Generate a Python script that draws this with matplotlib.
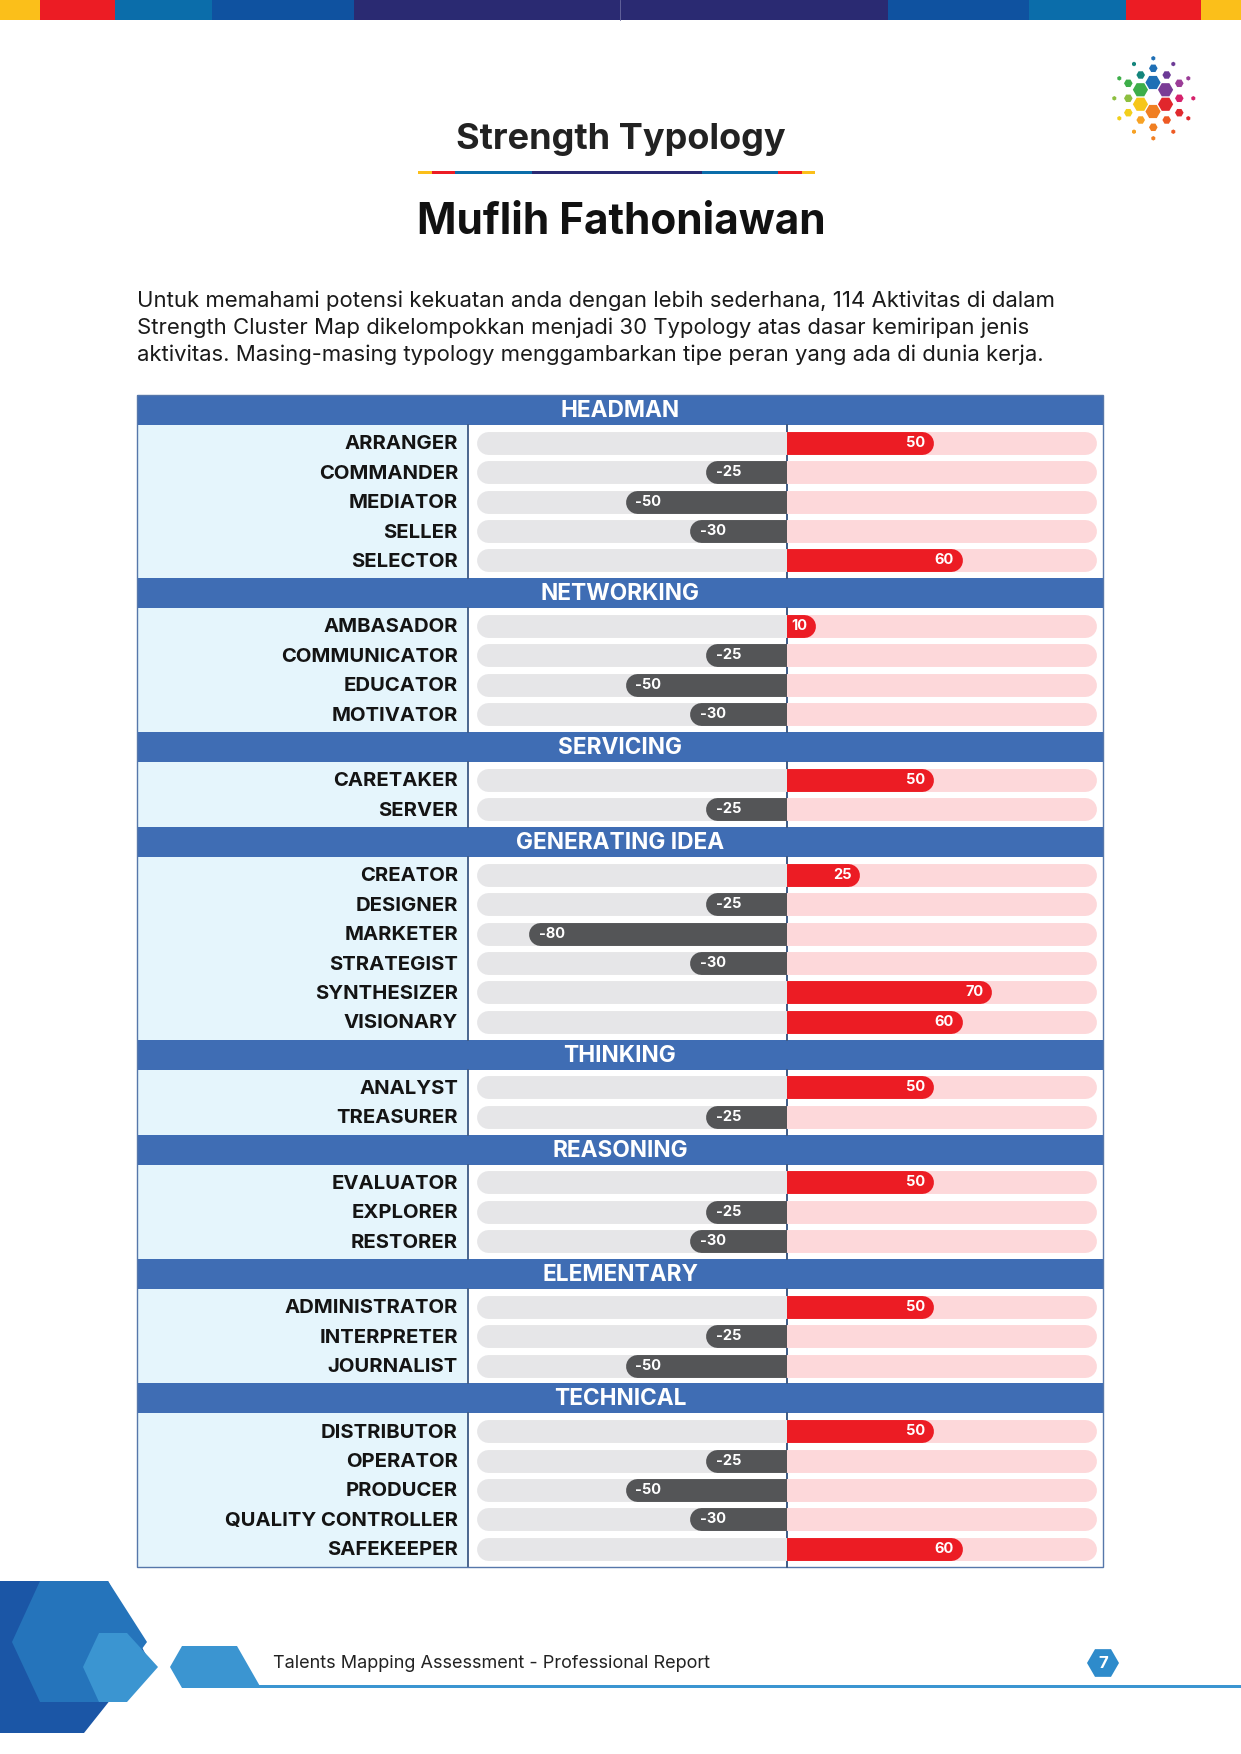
import numpy as np
import matplotlib.pyplot as plt
from matplotlib.patches import Rectangle, Polygon, RegularPolygon

# ---- data ----
sections = ["HEADMAN", "NETWORKING", "SERVICING", "GENERATING IDEA",
            "THINKING", "REASONING", "ELEMENTARY", "TECHNICAL"]

headman_labels = ["ARRANGER", "COMMANDER", "MEDIATOR", "SELLER", "SELECTOR"]
headman_values = [50, -25, -50, -30, 60]
networking_labels = ["AMBASADOR", "COMMUNICATOR", "EDUCATOR", "MOTIVATOR"]
networking_values = [10, -25, -50, -30]
servicing_labels = ["CARETAKER", "SERVER"]
servicing_values = [50, -25]
generating_labels = ["CREATOR", "DESIGNER", "MARKETER", "STRATEGIST", "SYNTHESIZER", "VISIONARY"]
generating_values = [25, -25, -80, -30, 70, 60]
thinking_labels = ["ANALYST", "TREASURER"]
thinking_values = [50, -25]
reasoning_labels = ["EVALUATOR", "EXPLORER", "RESTORER"]
reasoning_values = [50, -25, -30]
elementary_labels = ["ADMINISTRATOR", "INTERPRETER", "JOURNALIST"]
elementary_values = [50, -25, -50]
technical_labels = ["DISTRIBUTOR", "OPERATOR", "PRODUCER", "QUALITY CONTROLLER", "SAFEKEEPER"]
technical_values = [50, -25, -50, -30, 60]

all_labels = [headman_labels, networking_labels, servicing_labels, generating_labels,
              thinking_labels, reasoning_labels, elementary_labels, technical_labels]
all_values = [headman_values, networking_values, servicing_values, generating_values,
              thinking_values, reasoning_values, elementary_values, technical_values]

title = "Strength Typology"
name = "Muflih Fathoniawan"
intro = ["Untuk memahami potensi kekuatan anda dengan lebih sederhana, 114 Aktivitas di dalam",
         "Strength Cluster Map dikelompokkan menjadi 30 Typology atas dasar kemiripan jenis",
         "aktivitas. Masing-masing typology menggambarkan tipe peran yang ada di dunia kerja."]
footer = "Talents Mapping Assessment - Professional Report"
page_no = "7"

# ---- colours ----
YEL, RED, TEAL, BLUE, NAVY = "#FBBF1A", "#EC1C24", "#0B6DAA", "#0F52A0", "#2A2A72"
HDR = "#3F6DB4"
LBL_BG = "#E5F5FC"
GREY_TRACK = "#E6E6E8"
PINK_TRACK = "#FDD8DA"
NEG = "#545557"
POS = "#EC1C24"
LINE = "#3E5B86"

plt.rcParams['font.family'] = ['Inter', 'DejaVu Sans']

W, H = 1241, 1754
fig = plt.figure(figsize=(W / 100, H / 100), dpi=100)
page = fig.add_axes([0, 0, 1, 1])
page.set_xlim(0, W)
page.set_ylim(H, 0)
page.axis('off')

# ---- top colour strip ----
strip = [(0, 40, YEL), (40, 115, RED), (115, 212, TEAL), (212, 354, BLUE), (354, 620, NAVY),
         (620, 888, NAVY), (888, 1029, BLUE), (1029, 1126, TEAL), (1126, 1201, RED), (1201, 1241, YEL)]
for x0, x1, c in strip:
    page.add_patch(Rectangle((x0, 0), x1 - x0, 20, color=c, lw=0))
page.plot([620, 620], [0, 20], color="#6A6AA0", lw=0.6)

# ---- logo ----
cx, cy = 1153, 97
inner = ["#1F6FB5", "#7A3C96", "#E1262C", "#F07F22", "#F6C619", "#3DAE49"]
for i, c in enumerate(inner):
    a = np.pi / 2 - i * np.pi / 3
    page.add_patch(RegularPolygon((cx + 14.5 * np.cos(a), cy - 14.5 * np.sin(a)), 6,
                                  radius=7.6, orientation=np.pi / 6, color=c, lw=0))
mid_pts = [(1140.7, 75, "#14857C"), (1153.3, 68.3, "#1F6FB5"), (1166.7, 75, "#6C3A96"),
           (1179.3, 83.3, "#9B3C97"), (1179.3, 98.3, "#D6216B"), (1179.3, 112.7, "#E02A2E"),
           (1166.7, 120, "#EE5A24"), (1153.3, 127.3, "#F07F22"), (1140.7, 120, "#F7A224"),
           (1128.3, 112.7, "#F2CF1B"), (1128.3, 98.3, "#8DBF3F"), (1128.3, 83.3, "#3DAE49")]
for x, y, c in mid_pts:
    page.add_patch(RegularPolygon((x, y), 6, radius=4.3, orientation=np.pi / 6, color=c, lw=0))
out_pts = [(1153.3, 58.3, "#1F6FB5"), (1173.3, 64, "#6C3A96"), (1188.3, 78.3, "#9B3C97"),
           (1193.3, 98.3, "#D6216B"), (1188.3, 118.3, "#E02A2E"), (1173.3, 131.7, "#EE5A24"),
           (1153.3, 138.3, "#F07F22"), (1134, 131.7, "#F7A224"), (1119.3, 118.3, "#F2CF1B"),
           (1114.3, 98.3, "#8DBF3F"), (1119.3, 78.3, "#3DAE49"), (1134, 64, "#14857C")]
for x, y, c in out_pts:
    page.add_patch(RegularPolygon((x, y), 6, radius=2.3, color=c, lw=0))

# ---- titles ----
page.text(621, 139, title, ha='center', va='center', fontsize=26, fontweight='bold', color="#222222")
uline = [(418, 432, YEL), (432, 455, RED), (455, 487, TEAL), (487, 532, TEAL), (532, 702, NAVY),
         (702, 747, TEAL), (747, 778, TEAL), (778, 802, RED), (802, 815, YEL)]
for x0, x1, c in uline:
    page.add_patch(Rectangle((x0, 171), x1 - x0, 3.2, color=c, lw=0))
page.text(621, 223, name, ha='center', va='center', fontsize=30.5, fontweight='bold', color="#111111")

for i, line in enumerate(intro):
    page.text(137, 301 + i * 27, line, ha='left', va='center', fontsize=15.9, color="#1A1A1A")

# ---- table layout ----
T_LEFT, T_RIGHT, T_TOP, T_BOT = 137, 1103, 395, 1567
DIV = 468
ZERO = 786.5
HDR_H, ROW_H, PAD = 30, 29.4, 3.1

# negative half and positive half use their own x scales
ppu_neg, ppu_pos = 3.22, 2.93
axn = fig.add_axes([DIV / W, 1 - T_BOT / H, (ZERO - DIV) / W, (T_BOT - T_TOP) / H])
axn.set_xlim(-(ZERO - DIV) / ppu_neg, 0)
axp = fig.add_axes([ZERO / W, 1 - T_BOT / H, (T_RIGHT - ZERO) / W, (T_BOT - T_TOP) / H])
axp.set_xlim(0, (T_RIGHT - ZERO) / ppu_pos)
for a in (axn, axp):
    a.set_ylim(T_BOT, T_TOP)
    a.axis('off')
    a.patch.set_alpha(0)

neg_end = -(ZERO - 477) / ppu_neg
pos_end = (1096 - ZERO) / ppu_pos

lw = 16.5
r_px = lw * 100 / 72 / 2
rn, rp = r_px / ppu_neg, r_px / ppu_pos

y = T_TOP
for sec, labels, values in zip(sections, all_labels, all_values):
    page.add_patch(Rectangle((T_LEFT, y), T_RIGHT - T_LEFT, HDR_H, color=HDR, lw=0))
    page.text((T_LEFT + T_RIGHT) / 2, y + HDR_H / 2 + 1, sec, ha='center', va='center',
              fontsize=16.3, fontweight='bold', color='white')
    body_top = y + HDR_H
    body_h = 2 * PAD + ROW_H * len(labels)
    page.add_patch(Rectangle((T_LEFT, body_top), DIV - T_LEFT, body_h, color=LBL_BG, lw=0))
    page.plot([DIV, DIV], [body_top, body_top + body_h], color=LINE, lw=1.3)
    page.plot([ZERO, ZERO], [body_top, body_top + body_h], color=LINE, lw=1.4, zorder=10)
    for j, (lab, v) in enumerate(zip(labels, values)):
        yc = body_top + PAD + ROW_H * (j + 0.5)
        page.text(458, yc + 1.5, lab, ha='right', va='center', fontsize=14.6,
                  fontweight='bold', color="#141414")
        axn.plot([neg_end + rn, 0], [yc, yc], color=GREY_TRACK, lw=lw, solid_capstyle='round', zorder=1)
        axp.plot([0, pos_end - rp], [yc, yc], color=PINK_TRACK, lw=lw, solid_capstyle='round', zorder=1)
        if v > 0:
            axp.plot([0, v - rp], [yc, yc], color=POS, lw=lw, solid_capstyle='round', zorder=2)
            axp.annotate(str(v), (v, yc), xytext=(-6, 0), textcoords='offset points', ha='right',
                         va='center', fontsize=10.5, fontweight='bold', color='white', zorder=3)
        else:
            axn.plot([0, v + rn], [yc, yc], color=NEG, lw=lw, solid_capstyle='round', zorder=2)
            axn.annotate(str(v), (v, yc), xytext=(7, 0), textcoords='offset points', ha='left',
                         va='center', fontsize=10.5, fontweight='bold', color='white', zorder=3)
    y = body_top + body_h

page.add_patch(Rectangle((T_LEFT, T_TOP), T_RIGHT - T_LEFT, T_BOT - T_TOP, fill=False,
                         edgecolor="#5677AA", lw=1.0, zorder=4))

# ---- footer ----
page.add_patch(Polygon([(0, 1581), (108, 1581), (146, 1655), (84, 1733), (0, 1733)],
                       closed=True, color="#1B56A6", lw=0))
page.add_patch(Polygon([(40, 1581), (108, 1581), (147, 1642), (103, 1702), (40, 1702), (12, 1642)],
                       closed=True, color="#2574BB", lw=0))
page.add_patch(Polygon([(99, 1633), (127, 1633), (158, 1667), (127, 1702), (99, 1702), (83, 1667)],
                       closed=True, color="#3B95D1", lw=0))
page.add_patch(Polygon([(170, 1667), (182, 1646), (237, 1646), (261, 1688), (182, 1688)],
                       closed=True, color="#3B95D1", lw=0))
page.add_patch(Rectangle((255, 1685), W - 255, 3.2, color="#3B95D1", lw=0))
page.text(273, 1663, footer, ha='left', va='center', fontsize=13, color="#222222")
page.add_patch(RegularPolygon((1103, 1663), 6, radius=16, orientation=np.pi / 6, color="#2E8BCB", lw=0))
page.text(1103, 1664, page_no, ha='center', va='center', fontsize=12, fontweight='bold', color='white')

fig.savefig("out.png", dpi=100)
